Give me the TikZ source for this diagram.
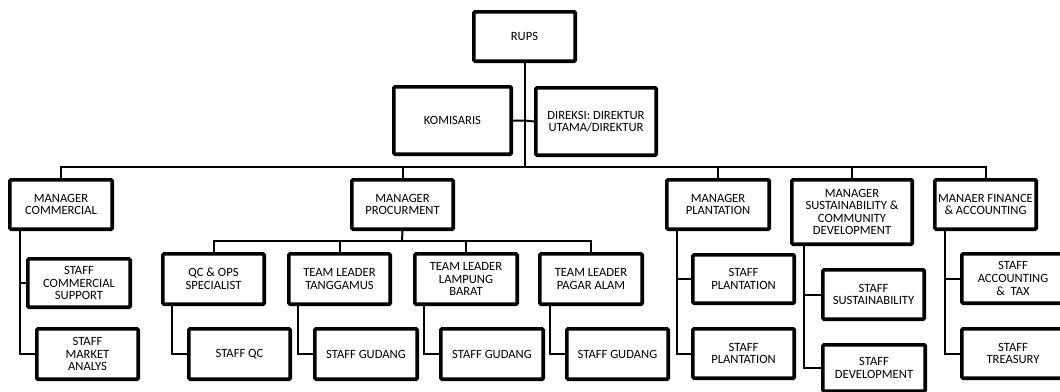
\documentclass[tikz,border=0pt]{standalone}
\usepackage{fontspec}
\setmainfont{Carlito}
\begin{document}
\begin{tikzpicture}[x=1pt,y=-1pt,
  box/.style={draw=black,line width=3.6pt,rounded corners=1.2pt,fill=white,
    align=center,inner sep=0pt,font=\fontsize{12.6}{12.6}\selectfont},
  link/.style={draw=black,line width=2pt}]
\newcommand\bx[6]{\node[box,minimum width={#4-#2-3.6},minimum height={#5-#3-3.6}] (#1) at ({(#2+#4)/2},{(#3+#5)/2}) {#6};}
\useasboundingbox (0,0) rectangle (1060,391);
\clip (0,0) rectangle (1060,391);
\fill[white] (0,0) rectangle (1060,391);
% boxes
\bx{rups}{472}{10}{577}{63}{RUPS}
\bx{kom}{392}{85}{513}{156}{KOMISARIS}
\bx{dir}{534}{86}{658}{157}{DIREKSI: DIREKTUR\\UTAMA/DIREKTUR}
\bx{mcom}{8}{178}{114}{231}{MANAGER\\COMMERCIAL}
\bx{mproc}{350}{178}{455}{231}{MANAGER\\PROCURMENT}
\bx{mplant}{665}{178}{771}{231}{MANAGER\\PLANTATION}
\bx{msust}{790}{178}{914}{246}{MANAGER\\SUSTAINABILITY \&\\COMMUNITY\\DEVELOPMENT}
\bx{mfin}{933}{178}{1038}{231}{MANAER FINANCE\\\& ACCOUNTING}
\bx{scs}{26}{257}{132}{309}{STAFF\\COMMERCIAL\\SUPPORT}
\bx{sma}{35}{327}{140}{381}{STAFF\\MARKET\\ANALYS}
\bx{qc}{161}{252}{266}{306}{QC \& OPS\\SPECIALIST}
\bx{tt}{287}{252}{392}{306}{TEAM LEADER\\TANGGAMUS}
\bx{tl}{413}{252}{519}{306}{TEAM LEADER\\LAMPUNG\\BARAT}
\bx{tp}{538}{252}{644}{306}{TEAM LEADER\\PAGAR ALAM}
\bx{sqc}{187}{327}{292}{381}{STAFF QC}
\bx{sg1}{313}{327}{419}{381}{STAFF GUDANG}
\bx{sg2}{439}{327}{545}{381}{STAFF GUDANG}
\bx{sg3}{565}{327}{670}{381}{STAFF GUDANG}
\bx{sp1}{691}{253}{796}{305}{STAFF\\PLANTATION}
\bx{sp2}{691}{327}{796}{380}{STAFF\\PLANTATION}
\bx{ss}{821}{268}{926}{321}{STAFF\\SUSTAINABILITY}
\bx{sd}{821}{343}{927}{393}{STAFF\\DEVELOPMENT}
\bx{sat}{960}{252}{1066}{305}{STAFF\\ACCOUNTING\\\&~~TAX}
\bx{str}{960}{327}{1066}{380}{STAFF\\TREASURY}
% connectors
\begin{scope}[on background layer/.style={}]
\end{scope}
\coordinate (bus) at (524,167);
\draw[link] (rups.south) -- (rups.south |- bus);
\draw[link] (kom.east) -- (rups.south |- kom.east) -- (dir.west);
\draw[link] (mcom.north) -- (mcom.north |- bus) -- (mfin.north |- bus) -- (mfin.north);
\draw[link] (mproc.north) -- (mproc.north |- bus);
\draw[link] (mplant.north) -- (mplant.north |- bus);
\draw[link] (msust.north) -- (msust.north |- bus);
\coordinate (pbus) at (402,241);
\draw[link] (mproc.south) -- (pbus);
\draw[link] (qc.north) -- (qc.north |- pbus) -- (tp.north |- pbus) -- (tp.north);
\draw[link] (tt.north) -- (tt.north |- pbus);
\draw[link] (tl.north) -- (tl.north |- pbus);
\draw[link] ([xshift=12]mcom.south west) |- (scs.west);
\draw[link] ([xshift=12]mcom.south west) |- (sma.west);
\draw[link] ([xshift=11]qc.south west) |- (sqc.west);
\draw[link] ([xshift=11]tt.south west) |- (sg1.west);
\draw[link] ([xshift=11]tl.south west) |- (sg2.west);
\draw[link] ([xshift=12]tp.south west) |- (sg3.west);
\draw[link] ([xshift=12]mplant.south west) |- (sp1.west);
\draw[link] ([xshift=12]mplant.south west) |- (sp2.west);
\draw[link] ([xshift=14]msust.south west) |- (ss.west);
\draw[link] ([xshift=14]msust.south west) |- (sd.west);
\draw[link] ([xshift=12]mfin.south west) |- (sat.west);
\draw[link] ([xshift=12]mfin.south west) |- (str.west);
\end{tikzpicture}
\end{document}
